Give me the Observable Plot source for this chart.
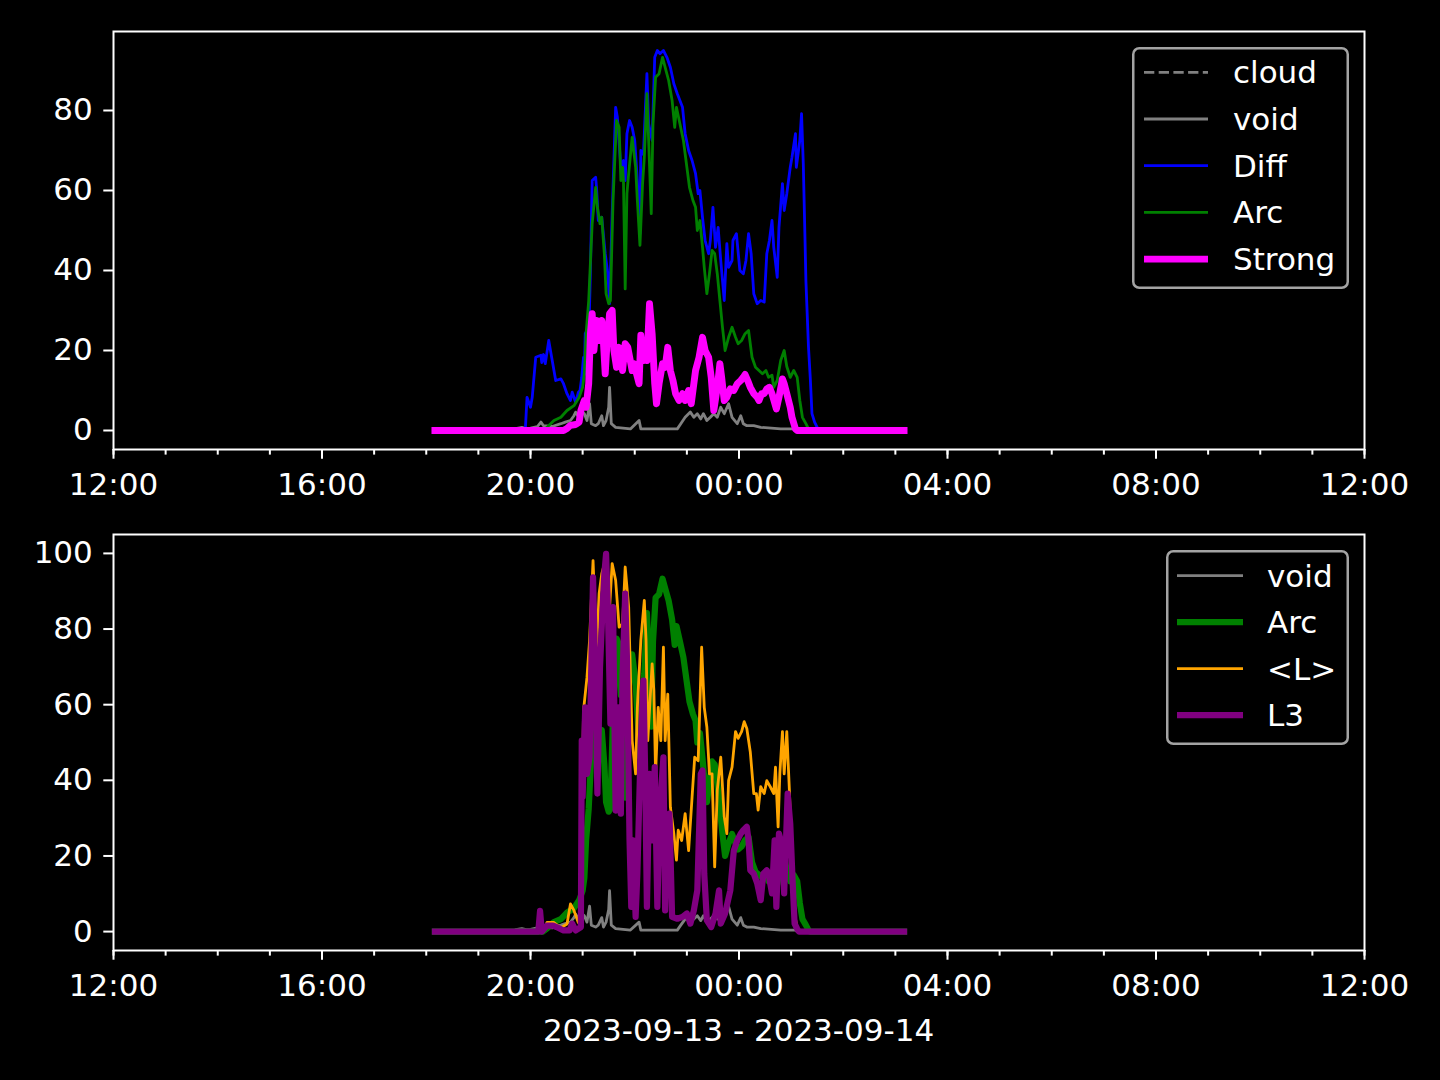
<!DOCTYPE html>
<html>
<head>
<meta charset="utf-8">
<script src="https://cdn.jsdelivr.net/npm/d3@7"></script>
<script src="https://cdn.jsdelivr.net/npm/@observablehq/plot@0.6"></script>
<style>
  html, body { margin: 0; padding: 0; background: #000; }
  #fig { position: relative; width: 1440px; height: 1080px; background: #000; overflow: hidden;
         font-family: "DejaVu Sans", sans-serif; color: #fff; }
  #fig > svg, #fig > figure { position: absolute; left: 0; margin: 0; }
  #xlabel { position: absolute; left: 113px; width: 1251px; top: 1011px; text-align: center;
            font-size: 31px; line-height: 38px; color: #fff; }
</style>
</head>
<body>
<div id="fig"></div>
<script>
// ---------------- DATA ----------------
// times are "HH:MM" on the night 2023-09-13 (>=12h) -> 2023-09-14 (<12h)
const dateLabel = "2023-09-13 - 2023-09-14";
const topYTicks = [0, 20, 40, 60, 80];
const bottomYTicks = [0, 20, 40, 60, 80, 100];

const voidSeries = [
  ["18:10",0],["19:40",0],["19:43",0.5],["19:50",0.8],["19:55",0.5],["20:00",0.6],["20:08",1.0],["20:12",2.1],
  ["20:15",1.2],["20:25",1.0],["20:35",1.7],["20:40",2.1],["20:46",2.5],["20:50",3.7],["20:52",4.6],["20:55",3.5],
  ["20:58",5.0],["21:02",4.2],["21:05",2.5],["21:08",6.7],["21:10",1.7],["21:15",1.2],["21:18",1.7],["21:22",3.7],
  ["21:24",1.2],["21:27",2.5],["21:30",5.8],["21:31",10.8],["21:33",1.7],["21:38",0.8],["21:55",0.4],["22:05",2.5],
  ["22:07",0.4],["22:30",0.4],["22:49",0.4],["22:53",1.7],["22:58",3.3],["23:04",4.6],["23:08",3.3],["23:12",4.2],
  ["23:16",2.9],["23:19",4.2],["23:23",2.5],["23:27",3.3],["23:31",4.2],["23:35",3.3],["23:39",5.8],["23:43",4.2],
  ["23:48",6.7],["23:52",3.3],["23:58",1.7],["00:02",3.7],["00:05",1.7],["00:09",1.2],["00:17",1.2],["00:25",0.8],
  ["00:48",0.4],["01:05",0.4],["01:07",0],["03:10",0]
];

const diffSeries = [
  ["18:10",0],["19:54",0],["19:56",8.3],["20:00",5.8],["20:02",8.3],["20:06",18.3],["20:12",18.8],["20:13",17.0],
  ["20:15",19.0],["20:17",16.7],["20:21",22.5],["20:25",17.5],["20:29",12.5],["20:35",12.9],["20:38",11.7],["20:42",9.2],
  ["20:46",7.5],["20:48",9.6],["20:52",7.0],["20:55",9.5],["20:57",10.0],["20:59",13.3],["21:01",18.3],["21:02",14.0],
  ["21:03",24.2],["21:05",25.0],["21:07",22.5],["21:09",40.0],["21:11",62.5],["21:15",63.3],["21:16",60.8],["21:18",52.5],
  ["21:22",53.3],["21:26",44.2],["21:29",39.2],["21:31",31.7],["21:34",54.0],["21:38",80.8],["21:40",78.3],["21:44",65.8],
  ["21:47",67.5],["21:49",62.5],["21:51",74.2],["21:54",77.5],["21:57",75.8],["22:00",72.5],["22:03",62.5],["22:06",49.2],
  ["22:07",70.0],["22:10",69.0],["22:14",89.2],["22:16",76.7],["22:20",72.5],["22:23",93.3],["22:26",95.0],["22:29",94.2],
  ["22:33",95.0],["22:37",93.3],["22:41",90.8],["22:45",86.7],["22:49",84.2],["22:52",82.5],["22:55",80.8],["22:58",74.2],
  ["23:02",70.0],["23:06",67.5],["23:10",64.2],["23:13",59.2],["23:15",60.0],["23:18",53.3],["23:21",47.5],["23:25",44.2],
  ["23:27",47.5],["23:30",55.8],["23:33",45.8],["23:36",50.8],["23:39",42.5],["23:43",32.5],["23:46",46.7],["23:48",40.8],
  ["23:52",42.5],["23:53",47.5],["23:57",49.2],["00:01",40.0],["00:05",39.2],["00:08",42.5],["00:11",49.2],["00:14",44.2],
  ["00:17",34.2],["00:21",31.7],["00:25",32.5],["00:29",32.1],["00:32",44.2],["00:35",47.5],["00:38",52.5],["00:40",45.8],
  ["00:44",38.3],["00:46",50.8],["00:50",61.7],["00:52",55.0],["00:55",59.2],["00:59",65.8],["01:01",68.3],["01:05",74.2],
  ["01:06",65.8],["01:10",72.5],["01:12",79.2],["01:14",66.7],["01:16",47.5],["01:17",37.5],["01:20",20.8],["01:22",13.3],
  ["01:24",4.2],["01:27",2.1],["01:30",0.8],["01:33",0],["03:10",0]
];

const arcSeries = [
  ["18:10",0],["20:14",0],["20:19",0.8],["20:27",2.5],["20:35",3.3],["20:42",5.0],["20:50",6.2],["20:56",8.3],
  ["21:00",10.8],["21:02",14.2],["21:04",24.2],["21:07",32.5],["21:11",51.7],["21:15",60.8],["21:17",55.8],["21:20",51.7],
  ["21:22",53.3],["21:25",44.2],["21:27",34.2],["21:30",31.7],["21:32",32.5],["21:35",57.5],["21:39",77.5],["21:42",75.8],
  ["21:44",62.5],["21:46",65.8],["21:47",62.5],["21:49",35.4],["21:51",59.2],["21:53",64.2],["21:57",73.3],["22:01",65.8],
  ["22:03",57.5],["22:06",46.3],["22:09",61.7],["22:11",68.3],["22:14",84.2],["22:16",72.5],["22:19",54.2],["22:21",76.7],
  ["22:24",88.3],["22:28",89.2],["22:32",93.3],["22:35",90.8],["22:39",87.5],["22:43",82.5],["22:46",75.8],["22:48",80.8],
  ["22:52",76.7],["22:56",72.5],["23:00",65.8],["23:03",60.8],["23:07",57.5],["23:10",55.8],["23:12",50.0],["23:15",52.5],
  ["23:18",45.8],["23:20",40.8],["23:23",34.2],["23:26",39.2],["23:29",45.0],["23:32",44.2],["23:35",39.2],["23:38",32.5],
  ["23:41",25.8],["23:44",20.0],["23:48",23.3],["23:52",25.8],["23:56",23.3],["23:59",21.7],["00:03",22.5],["00:07",24.2],
  ["00:11",25.0],["00:15",18.3],["00:19",15.8],["00:23",15.0],["00:27",14.2],["00:31",15.0],["00:34",13.3],["00:38",13.8],
  ["00:40",10.8],["00:44",12.5],["00:48",17.5],["00:52",20.0],["00:55",16.0],["00:59",13.3],["01:03",15.0],["01:07",13.3],
  ["01:10",7.5],["01:13",3.3],["01:17",1.7],["01:20",0.4],["01:22",0],["03:10",0]
];

const strongSeries = [
  ["18:10",0],["20:38",0],["20:42",0.5],["20:46",1.3],["20:52",1.5],["20:56",2.1],["20:58",5.0],["21:02",7.5],
  ["21:04",5.8],["21:07",11.7],["21:09",24.2],["21:11",29.2],["21:13",20.0],["21:16",27.5],["21:19",22.5],["21:22",27.5],
  ["21:23",25.8],["21:26",14.2],["21:28",21.7],["21:31",29.2],["21:34",30.0],["21:36",20.0],["21:39",15.8],["21:42",20.8],
  ["21:46",15.0],["21:49",21.7],["21:52",20.8],["21:57",15.0],["21:59",16.7],["22:05",11.7],["22:07",23.8],["22:10",17.5],
  ["22:11",22.5],["22:14",17.5],["22:17",31.7],["22:20",24.2],["22:23",11.7],["22:25",6.7],["22:28",11.7],["22:32",16.7],
  ["22:35",15.8],["22:38",20.8],["22:41",15.0],["22:44",12.5],["22:47",9.2],["22:51",7.5],["22:55",9.2],["22:58",7.5],
  ["23:02",10.0],["23:05",6.7],["23:10",15.0],["23:14",18.3],["23:18",23.3],["23:21",20.0],["23:25",18.3],["23:28",13.3],
  ["23:31",5.0],["23:35",10.8],["23:38",16.7],["23:40",13.3],["23:43",7.5],["23:46",8.3],["23:50",10.4],["23:54",10.0],
  ["23:58",11.7],["00:02",12.5],["00:05",13.3],["00:07",14.0],["00:10",12.5],["00:13",10.8],["00:17",9.2],["00:21",8.3],
  ["00:23",7.5],["00:26",9.2],["00:29",9.2],["00:32",10.4],["00:35",10.8],["00:38",9.2],["00:43",5.4],["00:46",8.3],
  ["00:50",12.9],["00:52",11.7],["00:55",9.2],["00:59",5.8],["01:01",3.3],["01:05",0.4],["01:07",0],["03:10",0]
];

const lMeanSeries = [
  ["18:10",0],["20:15",0],["20:19",2.4],["20:27",2.4],["20:35",1.0],["20:42",2.0],["20:46",7.3],["20:50",5.6],
  ["20:55",2.4],["20:58",3.0],["21:01",58.4],["21:05",67.2],["21:08",77.0],["21:12",98.1],["21:16",74.3],["21:19",89.4],
  ["21:22",94.6],["21:26",98.0],["21:30",81.4],["21:34",97.3],["21:38",92.9],["21:42",80.5],["21:46",81.4],["21:49",96.4],
  ["21:53",85.8],["21:57",50.5],["22:01",41.7],["22:03",59.3],["22:07",77.0],["22:11",87.6],["22:13",77.0],["22:15",50.5],
  ["22:20",70.8],["22:22",63.8],["22:24",41.7],["22:27",59.3],["22:30",50.5],["22:33",75.2],["22:35",50.5],["22:38",62.8],
  ["22:41",32.9],["22:45",25.9],["22:48",18.9],["22:50",26.8],["22:54",24.1],["22:58",31.2],["23:02",21.4],["23:06",35.6],
  ["23:09",46.1],["23:13",45.2],["23:17",75.2],["23:20",59.3],["23:23",54.1],["23:26",41.7],["23:29",41.7],["23:32",17.1],
  ["23:35",37.4],["23:39",46.1],["23:43",30.4],["23:46",25.9],["23:48",39.9],["23:52",43.5],["23:56",52.9],["23:59",51.1],
  ["00:03",52.9],["00:06",55.5],["00:09",53.7],["00:13",47.5],["00:17",36.5],["00:20",36.5],["00:22",32.1],["00:25",38.3],
  ["00:29",36.5],["00:32",39.9],["00:36",38.3],["00:40",36.5],["00:42",43.5],["00:45",27.7],["00:47",41.7],["00:50",52.9],
  ["00:52",41.7],["00:55",52.9],["00:58",37.4],["01:01",17.1],["01:04",4.8],["01:07",0.7],["01:09",0],["03:10",0]
];

const l3Series = [
  ["18:10",0],["20:09",0],["20:11",5.5],["20:13",0],["20:19",1.6],["20:26",1.6],["20:30",1.2],["20:38",0.3],
  ["20:45",0.3],["20:48",2.1],["20:52",0.3],["20:58",1.2],["20:59",50.5],["21:00",35.6],["21:03",59.3],["21:05",41.7],
  ["21:08",46.1],["21:12",93.7],["21:15",63.8],["21:17",36.5],["21:20",69.9],["21:23",85.8],["21:25",94.6],["21:27",99.9],
  ["21:29",85.8],["21:32",55.0],["21:35",85.8],["21:38",32.0],["21:41",59.3],["21:44",31.2],["21:46",68.0],["21:49",89.4],
  ["21:51",72.5],["21:54",24.1],["21:56",6.5],["21:58",24.1],["22:01",3.9],["22:03",15.3],["22:07",50.5],["22:10",66.4],
  ["22:12",41.7],["22:14",6.5],["22:17",41.7],["22:20",24.1],["22:23",43.5],["22:26",6.5],["22:29",32.9],["22:33",46.1],
  ["22:35",5.6],["22:37",28.5],["22:40",31.2],["22:43",3.9],["22:49",3.4],["22:55",3.9],["23:00",4.8],["23:04",2.1],
  ["23:08",5.6],["23:12",10.9],["23:16",41.7],["23:18",42.6],["23:20",15.3],["23:23",3.0],["23:28",1.2],["23:33",4.8],
  ["23:37",10.9],["23:39",2.1],["23:44",4.8],["23:50",10.9],["23:54",21.4],["23:58",24.1],["00:02",25.9],["00:05",26.8],
  ["00:09",27.7],["00:11",24.1],["00:13",16.2],["00:17",15.3],["00:21",12.7],["00:25",8.3],["00:28",15.3],["00:32",16.2],
  ["00:34",15.3],["00:38",10.1],["00:41",24.1],["00:43",6.5],["00:46",25.9],["00:50",22.4],["00:52",10.1],["00:56",36.5],
  ["00:59",28.5],["01:02",11.8],["01:04",2.1],["01:07",0.7],["01:09",0],["03:10",0]
];

// ---------------- helpers ----------------
const parseT = s => {
  const [h, m] = s.split(":").map(Number);
  return new Date(Date.UTC(2023, 8, h >= 12 ? 13 : 14, h, m));
};
const rows = arr => arr.map(([t, v]) => ({t: parseT(t), v}));
const xDomain = [new Date(Date.UTC(2023, 8, 13, 12)), new Date(Date.UTC(2023, 8, 14, 12))];
const FS = 31;
const THIN = 2.8, THICK = 6.2;

const topStyles = [
  {name: "cloud",  color: "#808080", w: THIN,  dash: "10.3,4.4", data: null},
  {name: "void",   color: "#808080", w: THIN,  data: voidSeries},
  {name: "Diff",   color: "#0000ff", w: THIN,  data: diffSeries},
  {name: "Arc",    color: "#008000", w: THIN,  data: arcSeries},
  {name: "Strong", color: "#ff00ff", w: 6.9,   data: strongSeries}
];
const bottomStyles = [
  {name: "void", color: "#808080", w: THIN,  data: voidSeries},
  {name: "Arc",  color: "#008000", w: THICK, data: arcSeries},
  {name: "<L>",  color: "#ffa500", w: THIN,  data: lMeanSeries},
  {name: "L3",   color: "#800080", w: THICK, data: l3Series}
];

function panel(styles, yDomain, yTicks, svgTop, height, mTop, mBottom) {
  const marks = [];
  for (const s of styles) {
    if (!s.data) continue;
    marks.push(Plot.line(rows(s.data), {x: "t", y: "v", stroke: s.color, strokeWidth: s.w,
      strokeLinejoin: "round", strokeLinecap: "square", strokeDasharray: s.dash}));
  }
  marks.push(
    Plot.axisX({ticks: d3.utcHour.every(1), tickFormat: () => "", tickSize: 5.6, strokeWidth: 2, stroke: "white", label: null}),
    Plot.axisX({ticks: d3.utcHour.every(4), tickFormat: d => d3.utcFormat("%H:%M")(d), tickSize: 9.7,
                tickPadding: 14, strokeWidth: 2, stroke: "white", fill: "white", label: null}),
    Plot.axisY({ticks: yTicks, tickSize: 9.7, tickPadding: 11, strokeWidth: 2, stroke: "white", fill: "white", label: null}),
    Plot.frame({stroke: "white", strokeWidth: 2})
  );
  const svg = Plot.plot({
    width: 1440, height,
    marginLeft: 113, marginRight: 76, marginTop: mTop, marginBottom: mBottom,
    x: {type: "utc", domain: xDomain},
    y: {domain: yDomain},
    style: {background: "black", color: "white", fontFamily: "'DejaVu Sans', sans-serif", fontSize: FS + "px"},
    marks
  });
  svg.style.top = svgTop + "px";
  return svg;
}

function legend(styles, box) {
  const ns = "http://www.w3.org/2000/svg";
  const svg = document.createElementNS(ns, "svg");
  svg.setAttribute("width", box.w); svg.setAttribute("height", box.h);
  svg.style.position = "absolute"; svg.style.left = box.x + "px"; svg.style.top = box.y + "px";
  const r = document.createElementNS(ns, "rect");
  Object.entries({x: 1.25, y: 1.25, width: box.w - 2.5, height: box.h - 2.5, rx: 6, ry: 6,
    fill: "black", stroke: "#a3a3a3", "stroke-width": 2.5}).forEach(([k, v]) => r.setAttribute(k, v));
  svg.appendChild(r);
  styles.forEach((s, i) => {
    const cy = box.row0 + i * box.step;
    const l = document.createElementNS(ns, "line");
    Object.entries({x1: box.hx0, x2: box.hx1, y1: cy, y2: cy, stroke: s.color, "stroke-width": s.w}).forEach(([k, v]) => l.setAttribute(k, v));
    if (s.dash) l.setAttribute("stroke-dasharray", s.dash);
    svg.appendChild(l);
    const t = document.createElementNS(ns, "text");
    Object.entries({x: box.tx, y: cy, fill: "white", "dominant-baseline": "central",
      "font-family": "'DejaVu Sans', sans-serif", "font-size": FS}).forEach(([k, v]) => t.setAttribute(k, v));
    t.textContent = s.name;
    svg.appendChild(t);
  });
  return svg;
}

const fig = document.getElementById("fig");
fig.appendChild(panel(topStyles, [-4.75, 99.75], topYTicks, 0, 510, 31, 61));
fig.appendChild(panel(bottomStyles, [-5, 105], bottomYTicks, 510, 570, 24, 130));
fig.appendChild(legend(topStyles, {x: 1132, y: 47, w: 217, h: 242, row0: 25.3, step: 46.7, hx0: 12, hx1: 76, tx: 101}));
fig.appendChild(legend(bottomStyles, {x: 1166, y: 550, w: 183, h: 195, row0: 25.7, step: 46.5, hx0: 11, hx1: 77, tx: 101}));
const xl = document.createElement("div");
xl.id = "xlabel"; xl.textContent = dateLabel;
fig.appendChild(xl);
</script>
</body>
</html>
